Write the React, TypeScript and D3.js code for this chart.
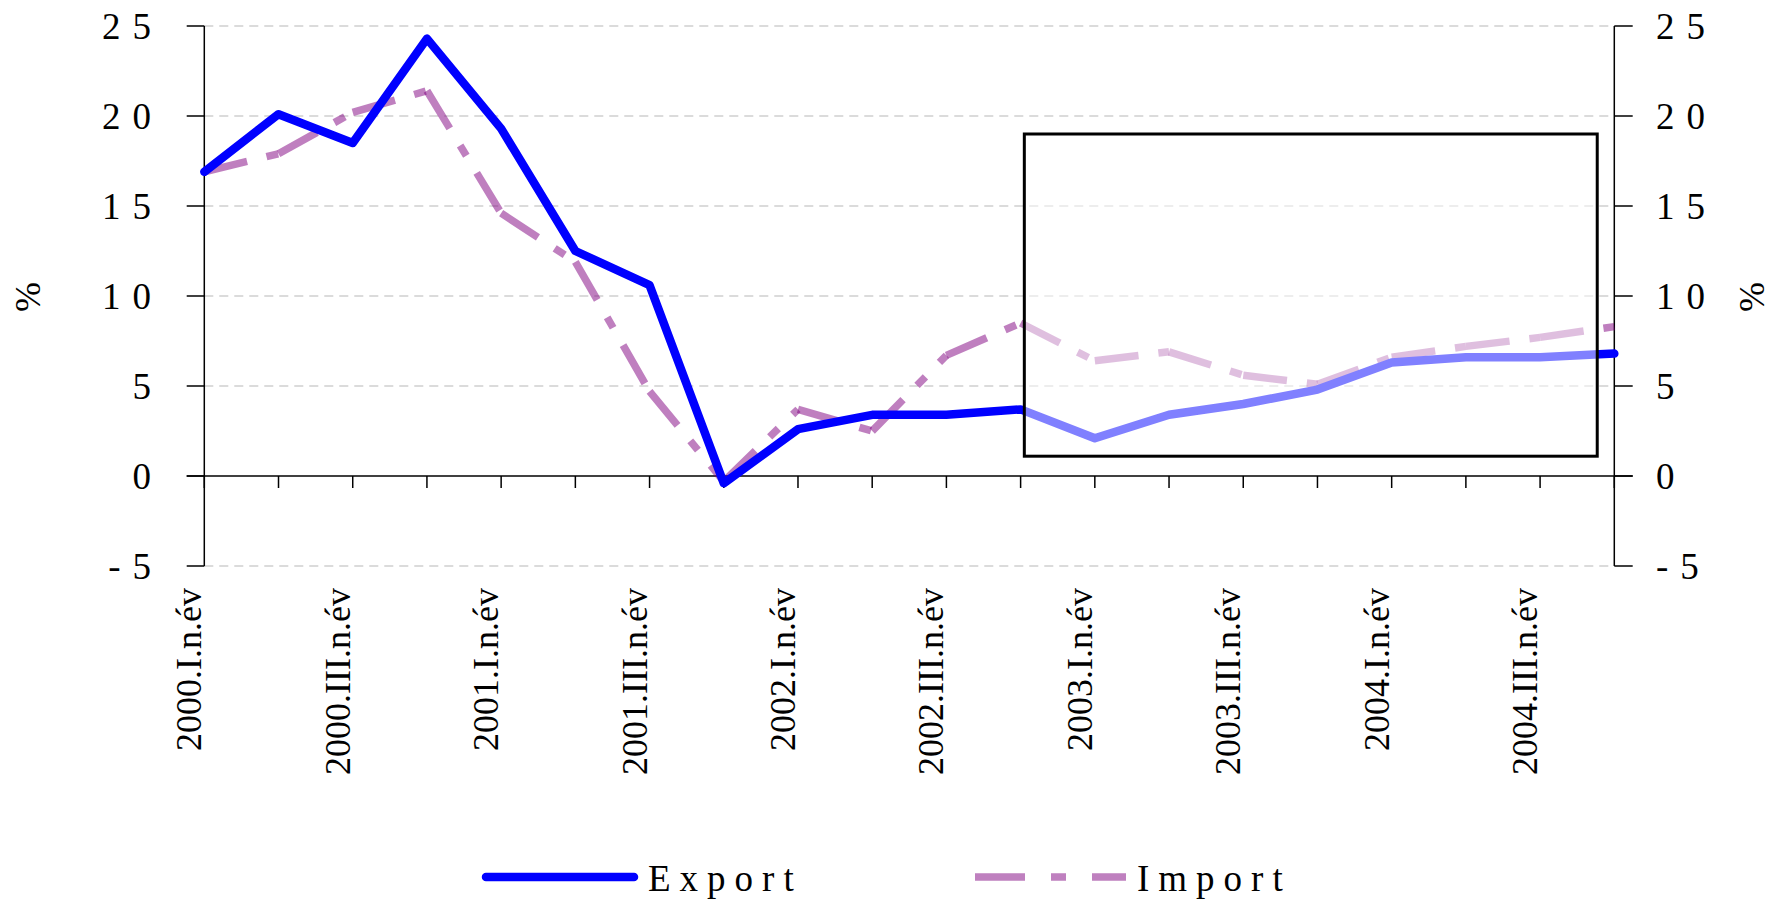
import React from "react";
import * as d3 from "d3";

const categories = [
  "2000.I.n.év", "2000.II.n.év", "2000.III.n.év", "2000.IV.n.év",
  "2001.I.n.év", "2001.II.n.év", "2001.III.n.év", "2001.IV.n.év",
  "2002.I.n.év", "2002.II.n.év", "2002.III.n.év", "2002.IV.n.év",
  "2003.I.n.év", "2003.II.n.év", "2003.III.n.év", "2003.IV.n.év",
  "2004.I.n.év", "2004.II.n.év", "2004.III.n.év", "2004.IV.n.év",
];
const exportValues = [16.9, 20.1, 18.5, 24.3, 19.3, 12.5, 10.6, -0.4, 2.6, 3.4, 3.4, 3.7, 2.1, 3.4, 4.0, 4.8, 6.3, 6.6, 6.6, 6.8];
const importValues = [16.9, 17.9, 20.2, 21.4, 14.6, 11.9, 4.7, -0.3, 3.7, 2.5, 6.7, 8.5, 6.4, 6.9, 5.6, 5.1, 6.6, 7.2, 7.7, 8.3];
const yTicks = [-5, 0, 5, 10, 15, 20, 25];
const seriesNames = ["Export", "Import"];
// highlighted box, in data units (category index, value)
const boxIndexFrom = 11.05;
const boxIndexTo = 18.77;
const boxValueTop = 19;
const boxValueBottom = 1.1;

const W = 1774;
const H = 900;
const FONT = "'Liberation Serif', 'Times New Roman', serif";

export default function App() {
  const x = d3.scalePoint<string>().domain(categories).range([204.3, 1614.3]);
  const xi = d3.scaleLinear().domain([0, categories.length - 1]).range([204.3, 1614.3]);
  const y = d3.scaleLinear().domain([-5, 25]).range([566, 26]);
  const left = 204.3;
  const right = 1614.3;

  const line = d3
    .line<number>()
    .x((_, i) => x(categories[i]) as number)
    .y((d) => y(d));

  const importSegs = importValues.slice(0, -1).map((v, i) => ({
    x1: x(categories[i]) as number,
    y1: y(v),
    x2: x(categories[i + 1]) as number,
    y2: y(importValues[i + 1]),
  }));

  const bx0 = xi(boxIndexFrom);
  const bx1 = xi(boxIndexTo);
  const by0 = y(boxValueTop);
  const by1 = y(boxValueBottom);

  return (
    <svg
      width={W}
      height={H}
      style={{ position: "absolute", left: 0, top: 0, background: "#fff" }}
      fontFamily={FONT}
    >
      {/* gridlines */}
      {yTicks
        .filter((t) => t !== 0)
        .map((t) => (
          <line key={"g" + t} x1={left} x2={right} y1={y(t)} y2={y(t)} stroke="#cfcfcf" strokeWidth={1.3} strokeDasharray="9 6" />
        ))}
      {/* axes */}
      <line x1={left} x2={left} y1={y(25)} y2={y(-5)} stroke="#000" strokeWidth={1.5} />
      <line x1={right} x2={right} y1={y(25)} y2={y(-5)} stroke="#000" strokeWidth={1.5} />
      {yTicks.map((t) => (
        <g key={"t" + t}>
          <line x1={left - 17.6} x2={left} y1={y(t)} y2={y(t)} stroke="#000" strokeWidth={1.5} />
          <line x1={right} x2={right + 18.4} y1={y(t)} y2={y(t)} stroke="#000" strokeWidth={1.5} />
          <text x={163} y={y(t)} dy="0.35em" textAnchor="end" fontSize={37} letterSpacing={12} fill="#000">
            {String(t)}
          </text>
          <text x={1656} y={y(t)} dy="0.35em" textAnchor="start" fontSize={37} letterSpacing={12} fill="#000">
            {String(t)}
          </text>
        </g>
      ))}
      <line x1={left - 17.6} x2={right + 18.4} y1={y(0)} y2={y(0)} stroke="#000" strokeWidth={1.5} />
      {categories.map((c) => (
        <line key={"xt" + c} x1={x(c)} x2={x(c)} y1={y(0)} y2={y(0) + 12} stroke="#000" strokeWidth={1.5} />
      ))}
      {categories.map((c, i) =>
        i % 2 === 0 ? (
          <text
            key={"xl" + c}
            transform={`translate(${(x(c) as number) - 3},588) rotate(-90)`}
            textAnchor="end"
            fontSize={36}
            fill="#000"
          >
            {c}
          </text>
        ) : null
      )}
      <text transform="translate(40,297) rotate(-90)" textAnchor="middle" fontSize={36} fill="#000">%</text>
      <text transform="translate(1764,297) rotate(-90)" textAnchor="middle" fontSize={36} fill="#000">%</text>

      {/* series */}
      <g>
        {importSegs.map((s, i) => (
          <line
            key={"is" + i}
            x1={s.x1}
            y1={s.y1}
            x2={s.x2}
            y2={s.y2}
            stroke="#800080"
            strokeOpacity={0.5}
            strokeWidth={7.5}
            strokeDasharray="44 20 12 20"
          />
        ))}
      </g>
      <path d={line(exportValues) || ""} fill="none" stroke="#0000ff" strokeWidth={8.5} strokeLinejoin="round" strokeLinecap="round" />

      {/* highlight box */}
      <rect x={bx0} y={by0} width={bx1 - bx0} height={by1 - by0} fill="#fff" fillOpacity={0.5} />
      <rect x={bx0} y={by0} width={bx1 - bx0} height={by1 - by0} fill="none" stroke="#000" strokeWidth={3} />

      {/* legend */}
      <line x1={486} x2={634} y1={877} y2={877} stroke="#0000ff" strokeWidth={8.5} strokeLinecap="round" />
      <text x={648} y={891} fontSize={37} letterSpacing={9} fill="#000">{seriesNames[0]}</text>
      <line x1={975} x2={1126} y1={877} y2={877} stroke="#bf80bf" strokeWidth={7.5} strokeDasharray="50 26 15 26" />
      <text x={1137} y={891} fontSize={37} letterSpacing={9} fill="#000">{seriesNames[1]}</text>
    </svg>
  );
}
